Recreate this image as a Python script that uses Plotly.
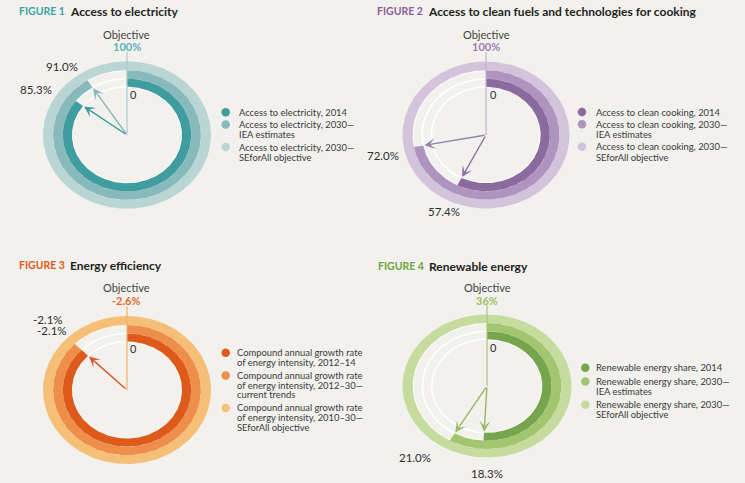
import numpy as np
import plotly.graph_objects as go

W, H = 745, 483
BG = "#f2f1ed"
FONT = "Lato"

# ---------------- data ----------------
figure_labels = ["FIGURE 1", "FIGURE 2", "FIGURE 3", "FIGURE 4"]
titles = ["Access to electricity",
          "Access to clean fuels and technologies for cooking",
          "Energy efficiency",
          "Renewable energy"]

elec_values = [85.3, 91.0]          # 2014, 2030 IEA estimates (%)
elec_objective = 100.0
cook_values = [57.4, 72.0]          # 2014, 2030 IEA estimates (%)
cook_objective = 100.0
ee_values = [-2.1, -2.1]            # 2012-14, 2012-30 current trends (%)
ee_objective = -2.6
ee_drawn_share = [0.875, 0.875]     # arc extent as drawn in the picture
re_values = [18.3, 21.0]            # 2014, 2030 IEA estimates (%)
re_objective = 36.0

elec_legend = [["Access to electricity, 2014"],
               ["Access to electricity, 2030—", "IEA estimates"],
               ["Access to electricity, 2030—", "SEforAll objective"]]
cook_legend = [["Access to clean cooking, 2014"],
               ["Access to clean cooking, 2030—", "IEA estimates"],
               ["Access to clean cooking, 2030—", "SEforAll objective"]]
ee_legend = [["Compound annual growth rate", "of energy intensity, 2012–14"],
             ["Compound annual growth rate", "of energy intensity, 2012–30—", "current trends"],
             ["Compound annual growth rate", "of energy intensity, 2010–30—", "SEforAll objective"]]
re_legend = [["Renewable energy share, 2014"],
             ["Renewable energy share, 2030—", "IEA estimates"],
             ["Renewable energy share, 2030—", "SEforAll objective"]]

values = [elec_values, cook_values, ee_values, re_values]
objectives = [elec_objective, cook_objective, ee_objective, re_objective]
legends = [elec_legend, cook_legend, ee_legend, re_legend]
shares = [[v / elec_objective for v in elec_values],
          [v / cook_objective for v in cook_values],
          ee_drawn_share,
          [v / re_objective for v in re_values]]

# ---------------- styling / layout ----------------
palettes = [
    dict(inner="#3f9c9f", mid="#88babc", outer="#b9d6d5", fig="#3ea3a8", obj="#5bb3b6",
         arr=["#3d999c", "#8ab8ba"], line="#a9c9c9"),
    dict(inner="#8b6b9d", mid="#ae94be", outer="#d4c4db", fig="#8c5e9d", obj="#a07cb1",
         arr=["#8f70a2", "#9a7fac"], line="#c4b3cc"),
    dict(inner="#de5a1a", mid="#ed8e4b", outer="#f5bf78", fig="#e05a20", obj="#e3692b",
         arr=["#d9552b", "#d9552b"], line="#f0b36a"),
    dict(inner="#76a54e", mid="#a4c56f", outer="#c6dc9e", fig="#6ea43e", obj="#9cbf68",
         arr=["#98b862", "#9cbb66"], line="#a9c67c"),
]
geom = [dict(cx=127, cy=135, rx=84, ry=73.7),
        dict(cx=486, cy=135, rx=83.5, ry=73.5),
        dict(cx=127, cy=390, rx=84, ry=74),
        dict(cx=487, cy=386, rx=84.5, ry=71.5)]
title_pos = [(17, 68, 11), (375, 426, 11), (17, 68, 265), (376, 427, 266)]
obj_pos = [(34.5, 46.7), (34.3, 46.7), (287.7, 300.7), (287.7, 300.7)]
value_label_pos = [[(36, 89.3), (61.7, 66.7)],
                   [(444, 211.3), (383.5, 155.7)],
                   [(52, 330), (48.3, 319.5)],
                   [(487, 473.3), (415.3, 457.3)]]
zero_pos = [(133.3, 94.3), (494, 94.3), (133.3, 348.3), (493, 347.7)]
# legend: marker x, text x, first line y, line gap, item gap
legend_geo = [(225.7, 236.5, 112.3, 10.4, 1.8),
              (582, 593.5, 112.0, 10.4, 1.8),
              (225.7, 235.0, 352.7, 9.6, 3.6),
              (585.3, 593.5, 367.7, 9.5, 4.3)]
LEG_FONT = [9.4, 9.4, 9.4, 9.4]

R_OUT = (0.88, 1.0)
R_MID = (0.765, 0.88)
R_IN = (0.655, 0.765)
TIP = [0.64, 0.75]


def ell(r, f):
    a = 2 * np.pi * np.asarray(f)
    return r * np.sin(a), r * np.cos(a)


def ring(r0, r1, f0, f1):
    n = max(int(abs(f1 - f0) * 400), 3)
    f = np.linspace(f0, f1, n)
    xo, yo = ell(r1, f)
    xi, yi = ell(r0, f[::-1])
    return np.r_[xo, xi, xo[:1]], np.r_[yo, yi, yo[:1]]


def px(x):
    return x / W


def py(y):
    return 1 - y / H


fig = go.Figure()
annotations = []
layout_axes = {}

for k in range(4):
    s = "" if k == 0 else str(k + 1)
    g = geom[k]
    pal = palettes[k]
    xa, ya = "x" + s, "y" + s
    layout_axes["xaxis" + s] = dict(domain=[0, 1], range=[-g["cx"] / g["rx"], (W - g["cx"]) / g["rx"]],
                                    visible=False, fixedrange=True, anchor=ya)
    layout_axes["yaxis" + s] = dict(domain=[0, 1], range=[-(H - g["cy"]) / g["ry"], g["cy"] / g["ry"]],
                                    visible=False, fixedrange=True, anchor=xa)

    def to_d(pxv, pyv):
        return (pxv - g["cx"]) / g["rx"], (g["cy"] - pyv) / g["ry"]

    # white guide circles
    f = np.linspace(0, 1, 400)
    for r in (R_OUT[0], R_MID[0], R_IN[0]):
        cxs, cys = ell(r, f)
        fig.add_trace(go.Scatter(x=cxs, y=cys, mode="lines", line=dict(color="white", width=1.6),
                                 xaxis=xa, yaxis=ya, hoverinfo="skip", showlegend=False))
    # objective ring (full)
    rx_, ry_ = ring(R_OUT[0], R_OUT[1], 0, 1)
    fig.add_trace(go.Scatter(x=rx_, y=ry_, mode="lines", fill="toself", fillcolor=pal["outer"],
                             line=dict(width=0, color=pal["outer"]), xaxis=xa, yaxis=ya,
                             hoverinfo="skip", showlegend=False))
    # 2030 ring
    rx_, ry_ = ring(R_MID[0], R_MID[1], 0, shares[k][1])
    fig.add_trace(go.Scatter(x=rx_, y=ry_, mode="lines", fill="toself", fillcolor=pal["mid"],
                             line=dict(width=0, color=pal["mid"]), xaxis=xa, yaxis=ya,
                             hoverinfo="skip", showlegend=False))
    # 2014 ring
    rx_, ry_ = ring(R_IN[0], R_IN[1], 0, shares[k][0])
    fig.add_trace(go.Scatter(x=rx_, y=ry_, mode="lines", fill="toself", fillcolor=pal["inner"],
                             line=dict(width=0, color=pal["inner"]), xaxis=xa, yaxis=ya,
                             hoverinfo="skip", showlegend=False))
    # zero line
    fig.add_trace(go.Scatter(x=[0, 0], y=[0, 1.13], mode="lines", line=dict(color=pal["line"], width=1.2),
                             xaxis=xa, yaxis=ya, hoverinfo="skip", showlegend=False))
    # arrows
    for j in (1, 0):
        if j == 1 and abs(shares[k][1] - shares[k][0]) < 1e-9:
            continue
        tx, ty = ell(TIP[j], shares[k][j])
        annotations.append(dict(x=float(tx), y=float(ty), ax=0, ay=0, xref=xa, yref=ya, axref=xa, ayref=ya,
                                text="", showarrow=True, arrowhead=3, arrowsize=1.3, arrowwidth=1.4,
                                arrowcolor=pal["arr"][j], standoff=0))
    # legend markers and text
    mx, tx0, y0, lg, ig = legend_geo[k]
    yy = y0
    colors = [pal["inner"], pal["mid"], pal["outer"]]
    for i, lines in enumerate(legends[k]):
        dx, dy = to_d(mx, yy)
        fig.add_trace(go.Scatter(x=[dx], y=[dy], mode="markers",
                                 marker=dict(size=8.5, color=colors[i], line=dict(width=0)),
                                 xaxis=xa, yaxis=ya, hoverinfo="skip", showlegend=False))
        for li, t in enumerate(lines):
            annotations.append(dict(x=px(tx0), y=py(yy + li * lg), xref="paper", yref="paper", text=t,
                                    showarrow=False, xanchor="left", yanchor="middle",
                                    font=dict(family=FONT, size=LEG_FONT[k], color="#3a3a3a")))
        yy += len(lines) * lg + ig

    # titles
    fx, tx1, ty1 = title_pos[k]
    annotations.append(dict(x=px(fx), y=py(ty1), xref="paper", yref="paper", text="<b>" + figure_labels[k] + "</b>",
                            showarrow=False, xanchor="left", yanchor="middle",
                            font=dict(family=FONT, size=10.5, color=pal["fig"])))
    annotations.append(dict(x=px(tx1), y=py(ty1), xref="paper", yref="paper", text="<b>" + titles[k] + "</b>",
                            showarrow=False, xanchor="left", yanchor="middle",
                            font=dict(family=FONT, size=12, color="#231f20")))
    # objective
    oy1, oy2 = obj_pos[k]
    annotations.append(dict(x=px(g["cx"]), y=py(oy1), xref="paper", yref="paper", text="Objective",
                            showarrow=False, xanchor="center", yanchor="middle",
                            font=dict(family=FONT, size=11, color="#444444")))
    annotations.append(dict(x=px(g["cx"]), y=py(oy2), xref="paper", yref="paper",
                            text="<b>" + f"{objectives[k]:g}%" + "</b>",
                            showarrow=False, xanchor="center", yanchor="middle",
                            font=dict(family=FONT, size=11, color=pal["obj"])))
    # value labels
    for j in (0, 1):
        lx, ly = value_label_pos[k][j]
        annotations.append(dict(x=px(lx), y=py(ly), xref="paper", yref="paper", text=f"{values[k][j]:.1f}%",
                                showarrow=False, xanchor="center", yanchor="middle",
                                font=dict(family=FONT, size=11.5, color="#2e2e2e")))
    zx, zy = zero_pos[k]
    annotations.append(dict(x=px(zx), y=py(zy), xref="paper", yref="paper", text="0",
                            showarrow=False, xanchor="center", yanchor="middle",
                            font=dict(family=FONT, size=11, color="#2e2e2e")))

fig.update_layout(width=W, height=H, margin=dict(l=0, r=0, t=0, b=0),
                  paper_bgcolor=BG, plot_bgcolor="rgba(0,0,0,0)", showlegend=False,
                  annotations=annotations, **layout_axes)
fig.write_html("out.html", config={"displayModeBar": False, "staticPlot": True},
               post_script="document.body.style.margin='0px';")
